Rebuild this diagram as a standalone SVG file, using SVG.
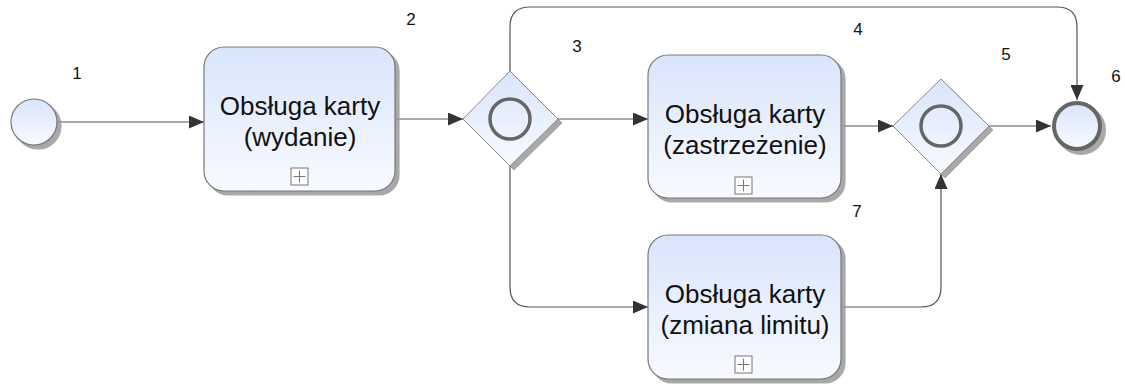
<svg xmlns="http://www.w3.org/2000/svg" width="1125" height="384" viewBox="0 0 1125 384">
<defs>
<linearGradient id="fill" x1="0" y1="0" x2="0" y2="1">
<stop offset="0" stop-color="#d9e5fb"/>
<stop offset="1" stop-color="#f8faff"/>
</linearGradient>
<marker id="arr" markerWidth="15" markerHeight="13" refX="15" refY="6.5" orient="auto" markerUnits="userSpaceOnUse">
<path d="M0,0 L15,6.5 L0,13 Z" fill="#333"/>
</marker>
<filter id="sh" x="-10%" y="-10%" width="130%" height="130%">
<feOffset in="SourceAlpha" dx="4" dy="4" result="o"/>
<feFlood flood-color="#999" flood-opacity="0.85"/>
<feComposite in2="o" operator="in" result="s"/>
<feMerge><feMergeNode in="s"/><feMergeNode in="SourceGraphic"/></feMerge>
</filter>
</defs>
<style>
.task{fill:url(#fill);stroke:#777;stroke-width:1.2;filter:url(#sh)}
.gw{fill:url(#fill);stroke:#888;stroke-width:1;filter:url(#sh)}
.ring{fill:none;stroke:#666;stroke-width:3.5}
.ev{fill:url(#fill);filter:url(#sh)}
.plus{fill:#fff;stroke:#777;stroke-width:1}
.t{font-family:"Liberation Sans",Arial,sans-serif;font-size:26px;fill:#111;text-anchor:middle}
.n{font-family:"Liberation Sans",Arial,sans-serif;font-size:17px;fill:#111;text-anchor:middle}
.e{fill:none;stroke:#555;stroke-width:1.2;marker-end:url(#arr)}
</style>
<g id="connectors">
<path class="e" d="M58,122 H204"/>
<path class="e" d="M395,119 H463"/>
<path class="e" d="M558,119 H648"/>
<path class="e" d="M510,71 V27 Q510,7 530,7 H1057 Q1077,7 1077,27 V100"/>
<path class="e" d="M510,166 V287 Q510,307 530,307 H648"/>
<path class="e" d="M842,126 H893"/>
<path class="e" d="M841,307 H921 Q941,307 941,287 V174"/>
<path class="e" d="M989,126 H1051"/>
</g>
<g id="start">
<circle class="ev" cx="34" cy="122" r="23" stroke="#777" stroke-width="1.2"/>
<text class="n" x="77" y="79">1</text>
</g>
<g id="task1">
<rect class="task" x="204" y="47" width="191" height="144" rx="20"/>
<text class="t" x="300" y="115">Obsługa karty</text>
<text class="t" x="300" y="146">(wydanie)</text>
<rect class="plus" x="291" y="168" width="17" height="17"/>
<path d="M299.5,170.5 V182.5 M293.5,176.5 H305.5" stroke="#777" stroke-width="1"/>
<text class="n" x="411" y="25">2</text>
</g>
<g id="gateway1">
<path class="gw" d="M510,71 L558,119 L510,166 L463,119 Z"/>
<circle class="ring" cx="510" cy="119" r="20"/>
<text class="n" x="577" y="52">3</text>
</g>
<g id="task2">
<rect class="task" x="648" y="55" width="193" height="143" rx="20"/>
<text class="t" x="745" y="123">Obsługa karty</text>
<text class="t" x="745" y="154">(zastrzeżenie)</text>
<rect class="plus" x="735" y="177" width="17" height="17"/>
<path d="M743.5,179.5 V191.5 M737.5,185.5 H749.5" stroke="#777" stroke-width="1"/>
<text class="n" x="858" y="35">4</text>
</g>
<g id="task3">
<rect class="task" x="648" y="235" width="193" height="144" rx="20"/>
<text class="t" x="745" y="303">Obsługa karty</text>
<text class="t" x="745" y="334">(zmiana limitu)</text>
<rect class="plus" x="735" y="356" width="17" height="17"/>
<path d="M743.5,358.5 V370.5 M737.5,364.5 H749.5" stroke="#777" stroke-width="1"/>
<text class="n" x="857" y="217">7</text>
</g>
<g id="gateway2">
<path class="gw" d="M941,79 L989,126 L941,174 L893,126 Z"/>
<circle class="ring" cx="941" cy="126" r="20"/>
<text class="n" x="1006" y="60">5</text>
</g>
<g id="end">
<circle class="ev" cx="1077" cy="126" r="23" stroke="#666" stroke-width="4"/>
<text class="n" x="1116" y="82">6</text>
</g>
</svg>
